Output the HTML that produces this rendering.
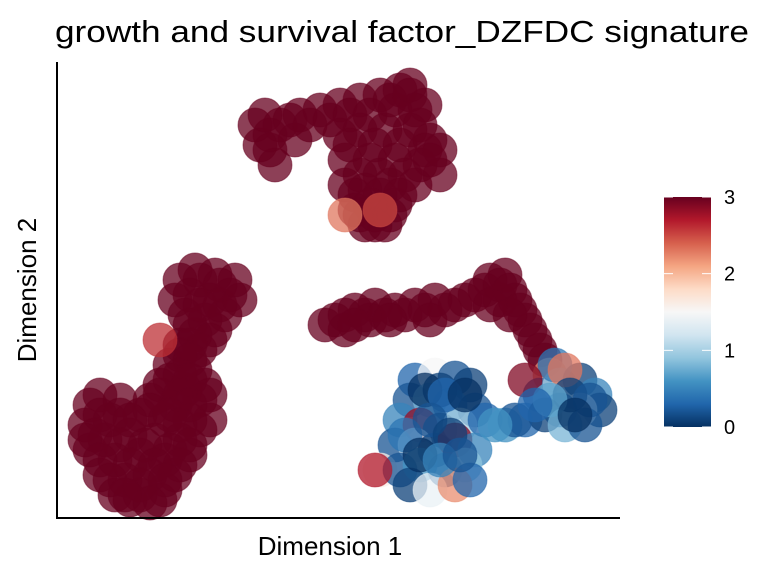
<!DOCTYPE html>
<html><head><meta charset="utf-8"><style>
body{margin:0;background:#fff;}
svg text{font-family:"Liberation Sans",Arial,sans-serif;fill:#000;}
</style></head><body>
<svg id="chart" width="768" height="576" xmlns="http://www.w3.org/2000/svg">
<defs>
<linearGradient id="rdbu" x1="0" y1="1" x2="0" y2="0">
<stop offset="0" stop-color="#053061"/><stop offset="0.1" stop-color="#2166ac"/><stop offset="0.2" stop-color="#4393c3"/><stop offset="0.3" stop-color="#92c5de"/><stop offset="0.4" stop-color="#d1e5f0"/><stop offset="0.5" stop-color="#f7f7f7"/><stop offset="0.6" stop-color="#fddbc7"/><stop offset="0.7" stop-color="#f4a582"/><stop offset="0.8" stop-color="#d6604d"/><stop offset="0.9" stop-color="#b2182b"/><stop offset="1" stop-color="#67001f"/>
</linearGradient>
</defs>
<text x="402" y="42" font-size="31" text-anchor="middle" textLength="694" lengthAdjust="spacingAndGlyphs">growth and survival factor_DZFDC signature</text>
<g id="points"></g>
<line x1="57" y1="62" x2="57" y2="519" stroke="#000" stroke-width="2"/>
<line x1="56" y1="518" x2="620" y2="518" stroke="#000" stroke-width="2"/>
<text x="330" y="555" font-size="26" text-anchor="middle">Dimension 1</text>
<text x="0" y="0" font-size="26" text-anchor="middle" transform="translate(36,290) rotate(-90)">Dimension 2</text>
<g>
<rect x="664" y="197" width="47" height="230" fill="url(#rdbu)"/>
<g id="cbticks"></g>
</g>
</svg>
<script>
const xs=[14.3,15.8,13.3,15.3,17.3,12.8,14.8,16.8,13.8,15.8,12.3,14.3,11.3,13.8,10.3,12.8,14.8,9.3,11.8,14.3,8.3,10.8,13.3,5.3,3.3,2.8,4.8,7.3,9.8,12.3,14.3,3.3,5.8,8.3,10.8,13.3,4.3,6.8,9.3,11.8,5.8,8.3,10.8,7.3,10.3,6.3,4.3,
13.8,16.3,14.3,16.3,13.3,15.3,13.3,12.3,13.3,12.3,11.3,13.3,10.3,12.3,13.3,9.3,11.3,12.3,4.3,6.3,7.3,3.8,6.3,8.8,11.3,13.3,2.8,4.3,7.3,9.8,12.3,5.3,8.3,10.8,6.8,9.3,15.3,15.3,
18.3,17.8,11.8,12.3,
10.3,
19.8,20.3,22.3,21.3,23.8,21.8,24.3,26.3,28.3,30.3,32.3,34.3,33.8,35.8,28.3,30.3,32.8,35.3,37.3,28.8,31.3,33.8,36.3,38.3,28.8,30.8,33.3,35.8,29.8,31.8,33.8,30.8,32.8,
21.3,20.8,23.3,25.3,27.3,29.3,31.3,33.3,35.3,36.3,29.3,31.8,34.3,36.8,30.3,32.3,34.8,37.3,29.8,32.3,34.3,31.3,30.3,33.3,31.8,
35.3,36.8,38.3,
28.8,32.3,
27.8,29.8,31.8,33.8,35.8,37.8,39.8,41.8,43.3,44.8,44.3,45.8,46.8,47.8,48.8,28.8,31.3,
26.8,28.8,30.8,32.8,34.8,36.8,38.8,40.8,42.8,44.3,45.3,46.3,47.3,45.3,48.3,43.3,29.8,33.3,37.3,49.3,
35.8,37.8,39.8,41.3,35.3,37.3,39.3,41.8,34.3,36.3,38.3,40.3,42.8,44.8,46.8,33.8,35.8,37.8,39.8,41.8,32.3,34.3,36.3,38.8,40.8,31.8,35.3,37.3,39.8,41.3,48.3,50.3,52.3,53.8,54.3,52.3,50.3,48.8,50.8,52.8,49.8,50.8,46.8,45.8,38.3,
36.8,38.8,40.8,34.8,37.3,39.3,36.3,38.3,40.3,43.8,51.3,53.3,49.3,51.8,47.8];
const ys=[23.8,24.3,22.3,21.8,22.3,20.3,19.8,20.3,18.3,18.8,17.3,16.8,15.3,14.8,13.3,12.8,13.3,11.8,11.3,11.8,10.3,9.8,9.8,9.8,11.3,9.3,7.8,8.3,7.8,7.8,8.8,6.8,5.8,6.3,5.8,6.3,4.3,3.8,4.3,4.3,2.3,2.3,2.8,1.8,1.8,11.8,12.3,
24.8,23.3,21.3,21.3,19.3,17.8,17.3,16.3,15.8,14.3,13.8,13.8,12.3,12.3,11.3,10.8,10.3,9.3,10.3,10.3,9.8,8.3,7.3,7.3,6.8,7.3,7.8,5.8,5.3,5.3,5.3,3.8,3.3,3.8,2.3,1.5,9.8,12.3,
21.8,23.8,21.8,23.8,
17.8,
39.3,37.3,39.3,36.8,37.8,35.3,40.3,40.8,41.3,41.8,42.3,42.8,40.8,40.8,38.3,38.8,38.8,38.8,37.8,35.8,35.8,35.8,35.3,34.3,33.3,32.8,33.3,33.3,30.8,30.3,31.3,29.3,29.3,
38.3,40.3,39.8,39.3,39.8,40.3,40.3,41.8,42.3,39.3,37.3,37.3,37.3,36.8,34.3,34.3,34.3,35.8,32.3,32.3,32.3,31.3,30.3,30.3,29.3,
43.3,41.3,36.8,
30.3,30.8,
19.8,20.8,21.3,20.8,21.3,21.8,21.3,22.3,23.8,24.3,21.8,21.8,19.8,17.8,15.8,18.8,19.8,
19.3,20.3,20.3,20.3,20.3,20.8,20.8,21.8,22.8,23.3,22.8,20.8,18.8,20.3,16.8,21.3,19.3,19.8,19.8,14.3,
13.8,14.3,14.0,13.3,11.8,11.8,11.3,10.8,9.8,9.3,8.8,9.3,9.8,9.3,9.8,7.3,7.3,6.8,7.8,6.8,4.8,4.8,5.3,4.8,5.3,4.8,3.3,2.8,3.3,3.8,12.3,13.3,13.8,12.3,10.8,10.8,10.8,10.3,9.3,9.3,15.3,14.8,13.8,9.8,12.8,
12.8,12.3,12.3,8.3,9.8,8.3,6.3,5.8,6.3,9.3,12.3,11.8,11.8,10.3,11.3];
const vals=[3,3,3,3,3,3,3,3,3,3,3,3,3,3,3,3,3,3,3,3,3,3,3,3,3,3,3,3,3,3,3,3,3,3,3,3,3,3,3,3,3,3,3,3,3,3,3,
3,3,3,3,3,3,3,3,3,3,3,3,3,3,3,3,3,3,3,3,3,3,3,3,3,3,3,3,3,3,3,3,3,3,3,3,3,3,
3,3,3,3,
2.6,
3,3,3,3,3,3,3,3,3,3,3,3,3,3,3,3,3,3,3,3,3,3,3,3,3,3,3,3,3,3,3,3,3,
3,3,3,3,3,3,3,3,3,3,3,3,3,3,3,3,3,3,3,3,3,3,3,3,3,
3,3,3,
2.3,2.5,
3,3,3,3,3,3,3,3,3,3,3,3,3,3,3,3,3,
3,3,3,3,3,3,3,3,3,3,3,3,3,3,3,3,3,3,3,2.2,
0.3,1.5,0.2,0.1,0.2,0.8,0.4,0.2,0.5,2.8,0.1,1.0,0.3,0.6,0.3,0.2,1.2,0.1,2.9,0.5,1.6,0.2,0.6,0.2,0.9,2.7,0.1,1.4,2.2,0.3,0.3,1.0,0.1,0.5,0.1,1.3,0.4,0.1,0.8,0.2,0.4,2.3,2.9,0.2,0.1,
0.0,0.3,0.0,0.4,0.2,0.1,0.0,0.5,0.2,0.6,0.1,0.2,0.7,0.0,0.3];
const cbTicks=[0,1,2,3];
const X=d=>57+d*10, Y=d=>518-d*10;
const stops=["#053061","#2166ac","#4393c3","#92c5de","#d1e5f0","#f7f7f7","#fddbc7","#f4a582","#d6604d","#b2182b","#67001f"];
function hex(c){return [1,3,5].map(i=>parseInt(c.substr(i,2),16));}
function color(v){let t=Math.max(0,Math.min(1,v/3))*10;let i=Math.min(9,Math.floor(t)),f=t-i;const a=hex(stops[i]),b=hex(stops[i+1]);return "rgb("+a.map((x,k)=>Math.round(x+(b[k]-x)*f)).join(",")+")";}
const ns="http://www.w3.org/2000/svg",g=document.getElementById("points");
for(let i=0;i<xs.length;i++){const c=document.createElementNS(ns,"circle");


c.setAttribute("cx",X(xs[i]));c.setAttribute("cy",Y(ys[i]));c.setAttribute("r",17);
const col=color(vals[i]);c.setAttribute("fill",col);c.setAttribute("fill-opacity",0.75);c.setAttribute("stroke",col);c.setAttribute("stroke-opacity",0.5);g.appendChild(c);}
const CB=v=>427-v*(230/3),tg=document.getElementById("cbticks");
cbTicks.forEach(v=>{const y=CB(v);
[[664,673],[702,711]].forEach(p=>{const l=document.createElementNS(ns,"line");


l.setAttribute("x1",p[0]);l.setAttribute("x2",p[1]);l.setAttribute("y1",y);l.setAttribute("y2",y);l.setAttribute("stroke","#fff");l.setAttribute("stroke-width",1);tg.appendChild(l);});
const t=document.createElementNS(ns,"text");


t.setAttribute("x",724);t.setAttribute("y",y+7);t.setAttribute("font-size",20);t.textContent=v;tg.appendChild(t);});
</script>
</body></html>
